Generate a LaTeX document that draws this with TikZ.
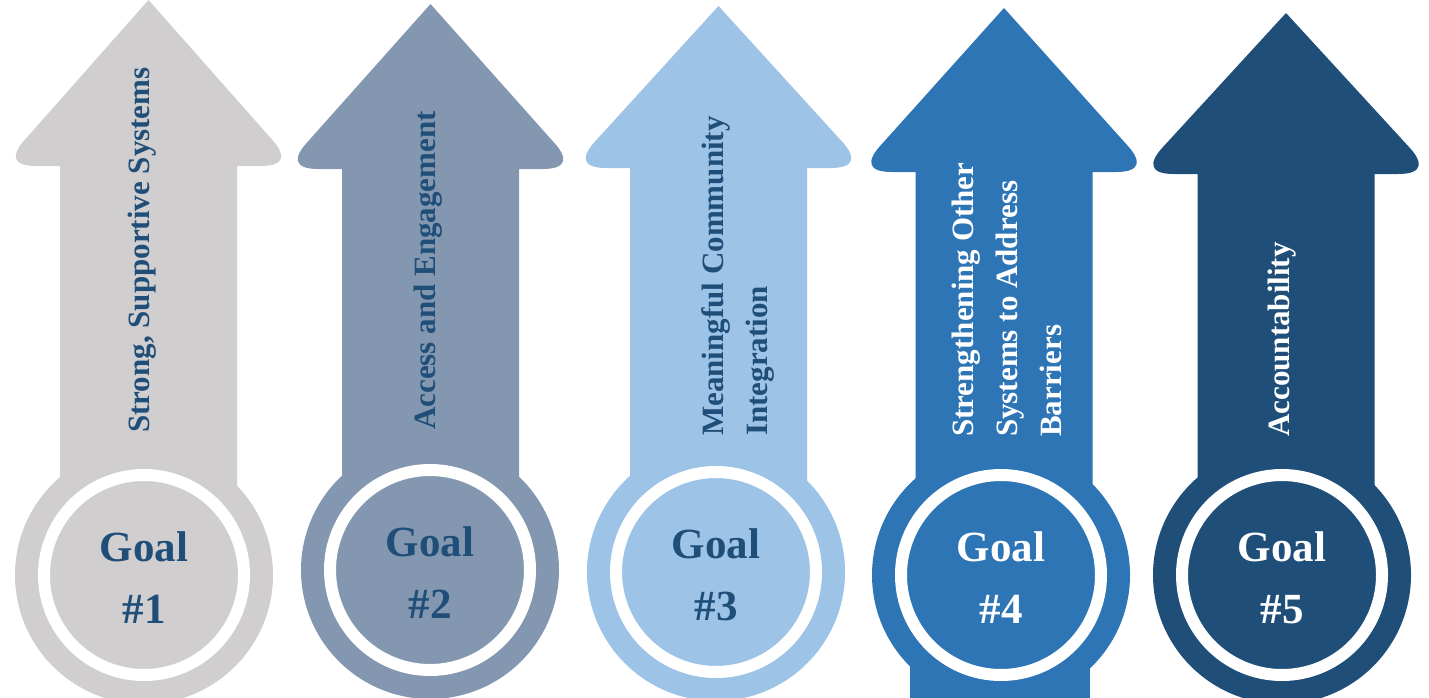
\documentclass[tikz,border=0pt]{standalone}
\usepackage{fontspec}
\setmainfont{Liberation Serif}
\definecolor{c1}{HTML}{D0CECE}
\definecolor{c2}{HTML}{8497B0}
\definecolor{c3}{HTML}{9DC3E6}
\definecolor{c4}{HTML}{2E75B6}
\definecolor{c5}{HTML}{1F4E79}
\definecolor{dk}{HTML}{1F4E79}
% #1 arrow centre x, #2 tip y, #3 wing bottom y, #4 circle x, #5 circle y, #6 colour
\newcommand\goalarrow[6]{%
  \fill[#6] (#1,#2) -- ({#1+123},{#3-27})
    .. controls ({#1+137},{#3-12}) and ({#1+138},#3) .. ({#1+112},#3)
    -- ({#1+88.5},#3) -- ({#1+88.5},#5) -- ({#1-88.5},#5) -- ({#1-88.5},#3)
    -- ({#1-112},#3) .. controls ({#1-138},#3) and ({#1-137},{#3-12}) .. ({#1-123},{#3-27}) -- cycle;
  \fill[#6] (#4,#5) circle (129pt);
  \draw[white, line width=12pt] (#4,#5) circle (100pt);
}
\begin{document}
\begin{tikzpicture}[x=1pt,y=-1pt,
  vtext/.style={rotate=90,anchor=base west,inner sep=0pt,
    font=\fontsize{31}{44}\selectfont\bfseries},
  goaltext/.style={anchor=base,inner sep=0pt,
    font=\fontsize{43}{62}\selectfont\bfseries}]
\useasboundingbox (0,0) rectangle (1429,698);

\goalarrow{148.5}{0}{166}{144}{575}{c1}
\goalarrow{430.5}{4}{169}{430}{570}{c2}
\goalarrow{718.5}{6}{168}{716}{572}{c3}
\fill[c4] (910,575) rectangle (1090,698);
\goalarrow{1004}{8}{172}{1001}{575}{c4}
\goalarrow{1286}{13}{174}{1282}{575}{c5}

% vertical labels
\node[vtext,text=dk] (t1) at (149,433) {Strong, Supportive Systems};
\node[vtext,text=dk] (t2) at (435,430) {Access and Engagement};
\node[vtext,text=dk] (t3a) at (723,436) {Meaningful Community};
\node[vtext,text=dk] (t3b) at (767,436) {Integration};
\node[vtext,text=white] (t4a) at (973,437) {Strengthening Other};
\node[vtext,text=white] (t4b) at (1017,437) {Systems to Address};
\node[vtext,text=white] (t4c) at (1061,437) {Barriers};
\node[vtext,text=white] (t5) at (1289,437) {Accountability};

% goal labels
\node[goaltext,text=dk] (g1a) at (144,561) {Goal};
\node[goaltext,text=dk] (g1b) at (144,623) {\#1};
\node[goaltext,text=dk] (g2a) at (430,556) {Goal};
\node[goaltext,text=dk] (g2b) at (430,618) {\#2};
\node[goaltext,text=dk] (g3a) at (716,558) {Goal};
\node[goaltext,text=dk] (g3b) at (716,620) {\#3};
\node[goaltext,text=white] (g4a) at (1001,561) {Goal};
\node[goaltext,text=white] (g4b) at (1001,623) {\#4};
\node[goaltext,text=white] (g5a) at (1282,561) {Goal};
\node[goaltext,text=white] (g5b) at (1282,623) {\#5};
\end{tikzpicture}
\end{document}
